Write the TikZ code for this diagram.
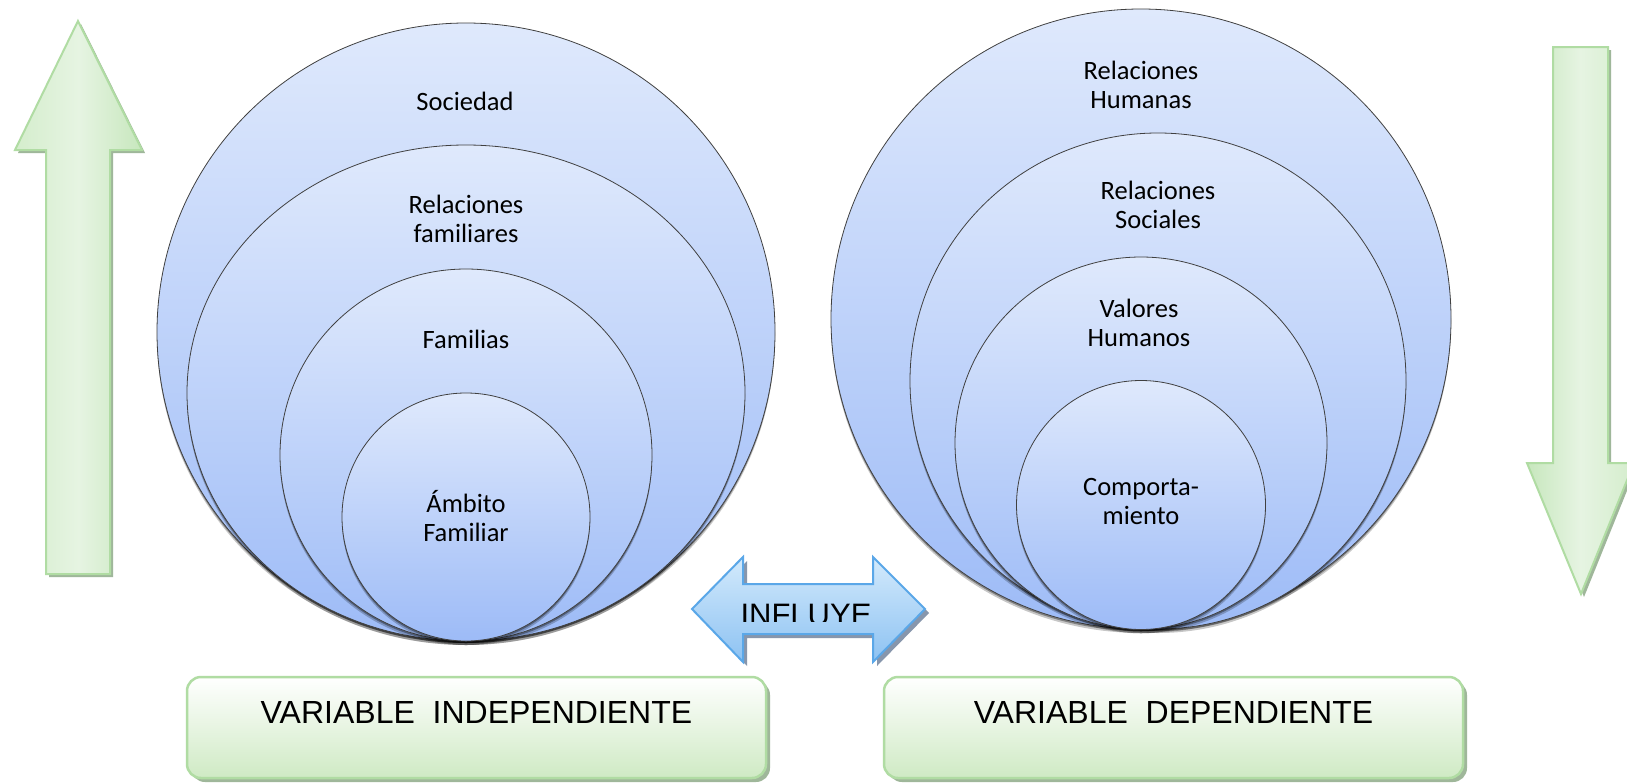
\documentclass[tikz,border=0pt]{standalone}
\usepackage{fontspec}
\setmainfont{Carlito}
\newfontfamily\arialf{Liberation Sans}
\usetikzlibrary{shapes.geometric,shadows}
\definecolor{cTop}{HTML}{DFE9FC}
\definecolor{cBot}{HTML}{9DBBF7}
\definecolor{cLine}{HTML}{404040}
\definecolor{gLine}{HTML}{B0DCA3}
\definecolor{gLight}{HTML}{E6F4E2}
\definecolor{gA}{HTML}{D4EDCC}
\definecolor{gB}{HTML}{C7E7BD}
\definecolor{gSh}{HTML}{9FB79A}
\definecolor{bLine}{HTML}{5AA7E8}
\definecolor{bTop}{HTML}{D3EAFC}
\definecolor{bBot}{HTML}{8DC2F2}
\definecolor{bSh}{HTML}{8796AC}
\definecolor{boxBot}{HTML}{CFEAC4}
\tikzset{
 ring/.style={draw=cLine, line width=0.8pt, top color=cTop, bottom color=cBot,
   drop shadow={shadow xshift=0pt, shadow yshift=-4pt, opacity=0.22, fill=black},
   drop shadow={shadow xshift=0pt, shadow yshift=-2pt, opacity=0.35, fill=black}},
 garrowup/.style={draw=gLine, line width=2pt, left color=gA, right color=gB, middle color=gLight},
 garrowdown/.style={draw=gLine, line width=2pt, left color=gB, right color=gA, middle color=gLight},
 barrow/.style={draw=bLine, line width=2pt, top color=bTop, bottom color=bBot},
 vbox/.style={draw=gLine, line width=2.5pt, top color=white, bottom color=boxBot,
   rounded corners=14pt, rectangle,
   drop shadow={shadow xshift=4pt, shadow yshift=-4pt, opacity=1, fill=gSh}},
 lbl/.style={font=\fontsize{26.5}{29}\selectfont, align=center, inner sep=0pt},
 vlbl/.style={font=\arialf\fontsize{32}{36}\selectfont, inner sep=0pt},
}
\newcommand\uparr{(78,21) -- (142,150) -- (110,150) -- (110,574) -- (46,574) -- (46,150) -- (15,150) -- cycle}
\newcommand\downarr{(1553,47) -- (1608,47) -- (1608,463) -- (1634,463) -- (1581,594) -- (1527,463) -- (1553,463) -- cycle}
\newcommand\dblarr{(692,609) -- (743,557) -- (743,584) -- (873,584) -- (873,557) -- (925,609) -- (873,662) -- (873,634) -- (743,634) -- (743,662) -- cycle}
\begin{document}
\begin{tikzpicture}[x=1pt,y=-1pt]
\useasboundingbox (0,0) rectangle (1627,782);
\clip (0,0) rectangle (1627,782);
\fill[white] (0,0) rectangle (1627,782);

% green arrows
\fill[gSh, shift={(3,3)}] \uparr;
\path[garrowup] \uparr;
\fill[gSh, shift={(3,3)}] \downarr;
\path[garrowdown] \downarr;

% left circles
\node[ring, circle, minimum size=618pt] (L1) at (466,332) {};
\node[ring, ellipse, minimum width=558pt, minimum height=496pt] (L2) at (466,393) {};
\node[ring, circle, minimum size=372pt] (L3) at (466,455) {};
\node[ring, circle, minimum size=248pt] (L4) at (466,517) {};

% right circles
\node[ring, circle, minimum size=620pt] (R1) at (1141,319) {};
\node[ring, circle, minimum size=496pt] (R2) at (1158,381) {};
\node[ring, circle, minimum size=372pt] (R3) at (1141,443) {};
\node[ring, circle, minimum size=249pt] (R4) at (1141,505) {};

% labels
\node[lbl] (soc) at (465,101) {Sociedad};
\node[lbl] (relfam) at (466,219) {Relaciones\\familiares};
\node[lbl] (fam) at (466,339) {Familias};
\node[lbl] (amb) at (466,516) {Ámbito\\Familiar};
\node[lbl] (relhum) at (1141,85) {Relaciones\\Humanas};
\node[lbl] (relsoc) at (1158,205) {Relaciones\\Sociales};
\node[lbl] (valhum) at (1139,323) {Valores\\Humanos};
\node[lbl] (comp) at (1141,501) {Comporta-\\miento};

% double arrow
\fill[bSh, shift={(4,4)}] \dblarr;
\path[barrow] \dblarr;
\begin{scope}
\clip (700,590) rectangle (920,621.3);
\node[font=\arialf\fontsize{31}{34}\selectfont, inner sep=0pt] (infl) at (806,614.5) {INFLUYE};
\end{scope}

% boxes
\node[vbox, minimum width=579pt, minimum height=101pt] (boxI) at (476.5,727.5) {};
\node[vbox, minimum width=579pt, minimum height=101pt] (boxD) at (1173.5,727.5) {};
\node[vlbl] (vit) at (476.5,712) {VARIABLE\ \ INDEPENDIENTE};
\node[vlbl] (vdt) at (1173.5,712) {VARIABLE\ \ DEPENDIENTE};
\end{tikzpicture}
\end{document}
